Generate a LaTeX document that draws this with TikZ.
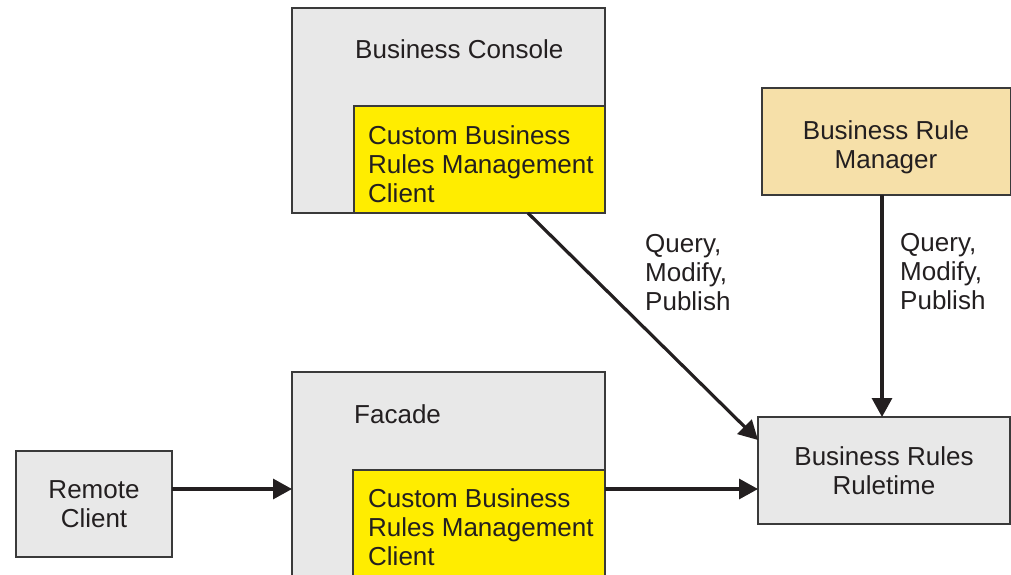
\documentclass[tikz,border=0pt]{standalone}
\usepackage{fontspec}
\setmainfont{Liberation Sans}
\usetikzlibrary{arrows.meta,calc}
\definecolor{panel}{HTML}{E8E8E8}
\definecolor{edge}{HTML}{3A3A3A}
\definecolor{clientyellow}{HTML}{FFED00}
\definecolor{managerfill}{HTML}{F6E0A9}
\definecolor{ink}{HTML}{231F20}
\begin{document}
\begin{tikzpicture}[x=1pt,y=-1pt,
  box/.style={draw=edge, line width=1.2pt, anchor=north west, inner sep=0pt, outer sep=0pt},
  txt/.style={font=\fontsize{26}{29}\selectfont, text=ink},
  lbl/.style={txt, inner sep=0pt, align=left, anchor=base west},
  flow/.style={draw=ink, line width=3.2pt, -{Triangle[length=19pt,width=20pt]}}]
\clip (0,0) rectangle (1011,575);

% Business Console with its embedded client (label nodes sit on the last baseline)
\node[box, fill=panel, minimum width=313pt, minimum height=205pt] (bc) at (292,8) {};
\node[box, fill=clientyellow, minimum width=251pt, minimum height=107pt] (bcc) at (354,106) {};
\node[lbl] (bct) at (355,59) {Business Console};
\node[lbl] (bcct) at (368,202) {Custom Business\\Rules Management\\Client};

% Facade with its embedded client
\node[box, fill=panel, minimum width=313pt, minimum height=240pt] (fa) at (292,372) {};
\node[box, fill=clientyellow, minimum width=252pt, minimum height=140pt] (fac) at (353,470) {};
\node[lbl] (fat) at (354,423) {Facade};
\node[lbl] (fact) at (368,565) {Custom Business\\Rules Management\\Client};

% Remote client
\node[box, fill=panel, minimum width=156pt, minimum height=106pt, txt, align=center] (rc) at (16,451) {Remote\\Client};

% Rule manager
\node[box, fill=managerfill, minimum width=249pt, minimum height=107pt] (brm) at (762,88) {};
\node[txt, inner sep=0pt, align=center, anchor=base] (brmt) at (886,168) {Business Rule\\Manager};

% Runtime
\node[box, fill=panel, minimum width=252pt, minimum height=107pt, txt, align=center] (rt) at (758,417) {Business Rules\\Ruletime};

% Connectors
\draw[flow] ($(rc.north east)+(0,38)$) -- ($(fa.north west)+(0,117)$);
\draw[flow] ($(fac.north east)+(0,19)$) -- ($(rt.north west)+(0,72)$);
\draw[flow] ($(bcc.south west)!0.693!(bcc.south east)$) -- ($(rt.north west)+(0,23)$);
\coordinate (mgrout) at ($(brm.south)+(-4.5,0)$);
\draw[flow] (mgrout) -- (mgrout |- rt.north);

% Connector labels
\node[lbl] (q1) at (645,310) {Query,\\Modify,\\Publish};
\node[lbl] (q2) at (900,309) {Query,\\Modify,\\Publish};
\end{tikzpicture}
\end{document}
